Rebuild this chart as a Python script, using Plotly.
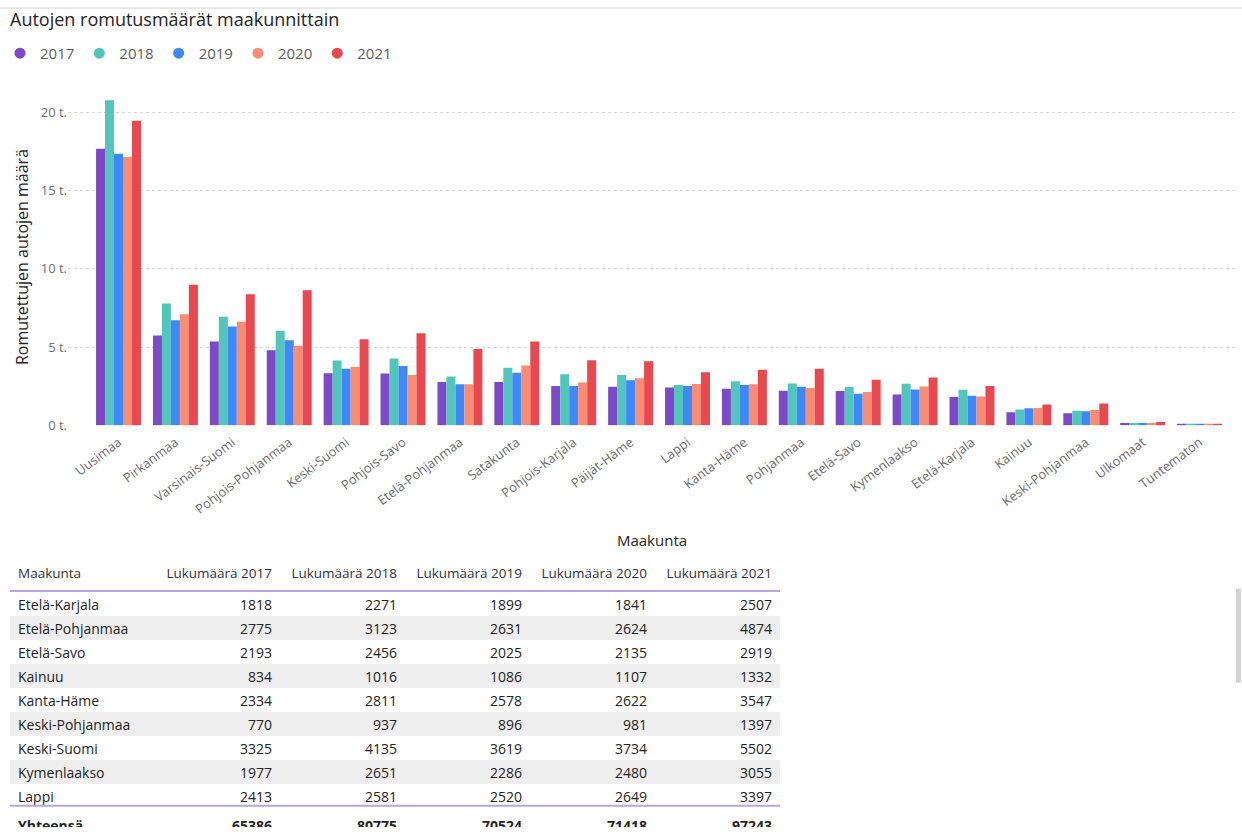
import plotly.graph_objects as go

# ---------------- data ----------------
regions = ["Uusimaa", "Pirkanmaa", "Varsinais-Suomi", "Pohjois-Pohjanmaa", "Keski-Suomi",
           "Pohjois-Savo", "Etelä-Pohjanmaa", "Satakunta", "Pohjois-Karjala", "Päijät-Häme",
           "Lappi", "Kanta-Häme", "Pohjanmaa", "Etelä-Savo", "Kymenlaakso", "Etelä-Karjala",
           "Kainuu", "Keski-Pohjanmaa", "Ulkomaat", "Tuntematon"]
years = ["2017", "2018", "2019", "2020", "2021"]
v2017 = [17670, 5740, 5360, 4790, 3325, 3320, 2775, 2770, 2520, 2460, 2413, 2334, 2210, 2193, 1977, 1818, 834, 770, 150, 70]
v2018 = [20760, 7780, 6940, 6040, 4135, 4270, 3123, 3680, 3260, 3220, 2581, 2811, 2670, 2456, 2651, 2271, 1016, 937, 150, 70]
v2019 = [17350, 6710, 6310, 5430, 3619, 3790, 2631, 3360, 2520, 2880, 2520, 2578, 2460, 2025, 2286, 1899, 1086, 896, 150, 70]
v2020 = [17140, 7090, 6620, 5090, 3734, 3220, 2624, 3830, 2730, 3010, 2649, 2622, 2380, 2135, 2480, 1841, 1107, 981, 150, 70]
v2021 = [19450, 8980, 8370, 8620, 5502, 5890, 4874, 5360, 4160, 4100, 3397, 3547, 3620, 2919, 3055, 2507, 1332, 1397, 210, 90]
totals = [65386, 80775, 70524, 71418, 97243]
ytick_vals = [0, 5000, 10000, 15000, 20000]
ytick_text = ["0 t.", "5 t.", "10 t.", "15 t.", "20 t."]
colors = ["#7D49C7", "#52C6BD", "#3F88F8", "#F98C72", "#E8484F"]

series = [v2017, v2018, v2019, v2020, v2021]

W, H = 1242, 836
def py(p):  # pixel-from-top -> paper y
    return 1 - p / H
def px(p):
    return p / W

FONT = "Open Sans"
fig = go.Figure()

for yr, vals, col in zip(years, series, colors):
    fig.add_trace(go.Bar(x=regions, y=vals, name=yr, marker_color=col,
                         marker_line_width=0, showlegend=False, legendgroup=yr))
    fig.add_trace(go.Scatter(x=[None], y=[None], mode="markers", name=yr,
                             marker=dict(symbol="circle", size=11, color=col),
                             legendgroup=yr, showlegend=True))

# ---------------- table ----------------
n_rows = 9
tbl_regions = sorted(regions)[:n_rows]
idx = [regions.index(r) for r in tbl_regions]
col_vals = [tbl_regions + ["<b>Yhteensä</b>"]]
for vals, tot in zip(series, totals):
    col_vals.append([str(vals[i]) for i in idx] + [f"<b>{tot}</b>"])
row_fill = [("#FFFFFF" if k % 2 == 0 else "#EEEEEE") for k in range(n_rows)] + ["#FFFFFF"]

fig.add_trace(go.Table(
    domain=dict(x=[px(10), px(780)], y=[0, py(566)]),
    columnwidth=[145, 125, 125, 125, 125],
    header=dict(values=["Maakunta"] + ["Lukumäärä\u00a0" + y for y in years],
                align=["left"] + ["right"] * 5, height=32,
                fill_color="white", line_color="rgba(0,0,0,0)",
                font=dict(family=FONT, size=13.5, color="#333333")),
    cells=dict(values=col_vals, align=["left"] + ["right"] * 5, height=24,
               fill_color=[row_fill] * 6, line_color="rgba(0,0,0,0)",
               font=dict(family=FONT, size=14, color="#252423")),
))

fig.update_layout(
    width=W, height=H,
    margin=dict(l=0, r=0, t=0, b=0),
    paper_bgcolor="white", plot_bgcolor="white",
    barmode="group", bargap=0.21, bargroupgap=0,
    font=dict(family=FONT, color="#605E5C"),
    title=dict(text="Autojen romutusmäärät maakunnittain", x=px(10), xanchor="left",
               xref="container", y=py(20), yanchor="middle", yref="container",
               font=dict(family=FONT, size=18, color="#252423")),
    legend=dict(orientation="h", x=0.0, xanchor="left", y=py(54), yanchor="middle",
                font=dict(family=FONT, size=15, color="#605E5C"),
                itemwidth=30, bgcolor="rgba(0,0,0,0)"),
    xaxis=dict(domain=[px(68), px(1236)], range=[-0.888, 19.64], tickangle=-37,
               tickfont=dict(family=FONT, size=13, color="#6E6E6E"),
               ticklabelstandoff=6,
               showgrid=False, zeroline=False, showline=False, ticks="",
               title=dict(text="Maakunta", font=dict(family=FONT, size=15, color="#252423"),
                          standoff=18)),
    yaxis=dict(domain=[py(430), py(89.6)], range=[0, 21500],
               tickvals=ytick_vals, ticktext=ytick_text,
               tickfont=dict(family=FONT, size=13, color="#6E6E6E"),
               showgrid=True, gridcolor="#D6D6D6", griddash="3px,3px", gridwidth=1,
               zeroline=False, showline=False, ticks="",
               title=dict(text="Romutettujen autojen määrä",
                          font=dict(family=FONT, size=16, color="#252423"), standoff=8)),
    shapes=[
        dict(type="line", xref="paper", yref="paper", x0=0, x1=1, y0=py(8), y1=py(8),
             line=dict(color="#E6E6E6", width=2)),
        dict(type="line", xref="paper", yref="paper", x0=px(10), x1=px(780),
             y0=py(597.5), y1=py(597.5), line=dict(color="#B8A5E3", width=2)),
        dict(type="line", xref="paper", yref="paper", x0=px(10), x1=px(780),
             y0=py(814.5), y1=py(814.5), line=dict(color="#B8A5E3", width=2)),
        dict(type="rect", xref="paper", yref="paper", x0=px(1236), x1=px(1241),
             y0=py(690), y1=py(595), fillcolor="#D4D4D4", line_width=0),
    ],
)

fig.write_html("out.html")
